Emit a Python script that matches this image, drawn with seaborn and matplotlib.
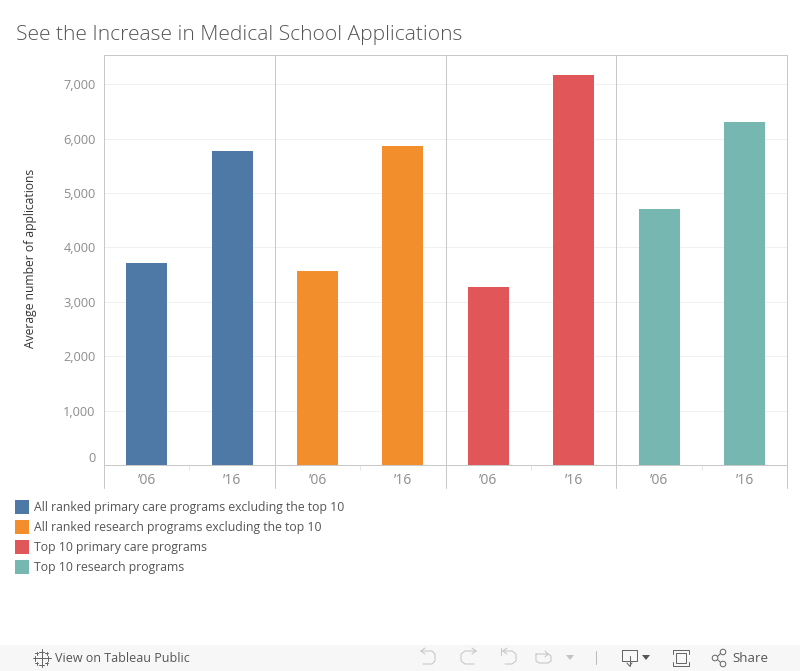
import matplotlib
matplotlib.use("Agg")
import matplotlib.pyplot as plt
import pandas as pd
import seaborn as sns
from matplotlib.lines import Line2D
from matplotlib.patches import Circle, Polygon, Rectangle

# Values
programs = [
    "All ranked primary care programs excluding the top 10",
    "All ranked research programs excluding the top 10",
    "Top 10 primary care programs",
    "Top 10 research programs",
]
years = ["\u201906", "\u201916"]
apps_2006 = [3722, 3575, 3281, 4715]
apps_2016 = [5781, 5873, 7178, 6314]
colors = ["#4e79a7", "#f28e2b", "#e15759", "#76b7b2"]
y_ticks = [0, 1000, 2000, 3000, 4000, 5000, 6000, 7000]

rows = []
for prog, a, b in zip(programs, apps_2006, apps_2016):
    rows.append({"slot": prog + years[0], "program": prog, "apps": a})
    rows.append({"slot": prog + years[1], "program": prog, "apps": b})
data = pd.DataFrame(rows)

sns.set_theme(style="white")
plt.rcParams["font.family"] = ["Open Sans", "DejaVu Sans"]

W, H = 800, 671
GRID = "#f0f0f0"
BORDER = "#c8c8c8"
TICK_TXT = "#8c8c8c"
DARK = "#555555"
THIN = 0.72  # one pixel at dpi 100

fig = plt.figure(figsize=(W / 100, H / 100), dpi=100, facecolor="white")
ax = fig.add_axes([104 / W, (H - 465) / H, 683.2 / W, 410 / H])

sns.barplot(data=data, x="slot", y="apps", hue="program", order=data["slot"],
            hue_order=programs, palette=colors, width=0.48, dodge=False,
            saturation=1, legend=False, linewidth=0, ax=ax)

ax.set_xlim(-0.5, 7.5)
ax.set_ylim(0, 7537)
ax.set_axisbelow(True)
ax.set_yticks(y_ticks)
ax.set_yticklabels([f"{v:,}" for v in y_ticks], fontsize=9.2, color=TICK_TXT)
ax.yaxis.grid(True, color=GRID, lw=THIN)
ax.get_yticklabels()[0].set_verticalalignment("bottom")
ax.set_xticks(range(8))
ax.set_xticklabels(years * 4, fontsize=10, color=TICK_TXT)
ax.tick_params(axis="x", length=0, pad=5.5)
ax.tick_params(axis="y", length=0, pad=6)
ax.set_xlabel("")
ax.set_ylabel("Average number of applications", fontsize=8.7, color="#333333")
ax.yaxis.set_label_coords((37 - 104) / 683.2, 0.503)

for side in ax.spines:
    ax.spines[side].set_color(BORDER)
    ax.spines[side].set_linewidth(THIN)

# panel separators run on through the year band
tr = ax.get_xaxis_transform()
band = -23 / 410
for x in [-0.5, 1.5, 3.5, 5.5, 7.5]:
    ax.plot([x, x], [band, 1], color=BORDER, lw=THIN, transform=tr, clip_on=False)
for x in [0.5, 2.5, 4.5, 6.5]:
    ax.plot([x, x], [-5 / 410, 0], color="#e6e6e6", lw=THIN, transform=tr, clip_on=False)

# overlay in pixel coordinates for title, legend and the toolbar
ov = fig.add_axes([0, 0, 1, 1], zorder=5)
ov.set_xlim(0, W)
ov.set_ylim(H, 0)
ov.axis("off")

ov.text(16, 35, "See the Increase in Medical School Applications", fontsize=15.1,
        color=DARK, va="center", ha="left", fontweight="light")

for i, (prog, col) in enumerate(zip(programs, colors)):
    y = 507 + i * 20
    ov.add_patch(Rectangle((15, y - 7), 14, 14, color=col, lw=0))
    ov.text(34, y, prog, fontsize=8.86, color=DARK, va="center", ha="left")

# toolbar
ov.add_patch(Rectangle((0, 645), W, 26, color="#f7f7f7", lw=0))
ov.text(55, 658, "View on Tableau Public", fontsize=9, color="#555555", va="center")
ov.text(732, 658, "Share", fontsize=9.5, color="#555555", va="center")


def line(xs, ys, col="#c4c4c4", lw=THIN):
    ov.add_line(Line2D(xs, ys, color=col, lw=lw))


# tableau logo
for cx, cy, r in [(41.5, 658, 5), (41.5, 651.5, 2.5), (41.5, 664.5, 2.5),
                  (35, 658, 2.5), (48, 658, 2.5), (36.5, 653, 1.5),
                  (46.5, 653, 1.5), (36.5, 663, 1.5), (46.5, 663, 1.5)]:
    line([cx - r, cx + r], [cy, cy], "#666666")
    line([cx, cx], [cy - r, cy + r], "#666666")

# undo / redo style icons
line([421, 432, 435, 435, 432, 423], [651, 651, 654, 661, 664, 664])
line([421, 425], [651, 648])
line([421, 425], [651, 654])
line([476, 465, 461, 461, 465, 474], [651, 651, 654, 661, 664, 664])
line([476, 472], [651, 648])
line([476, 472], [651, 654])
line([501, 501], [648, 655])
line([503, 512, 516, 516, 512, 505], [651, 651, 654, 661, 664, 664])
line([503, 507], [651, 648])
line([503, 507], [651, 654])
line([536, 548, 551, 551, 548, 539, 536, 536], [654, 654, 656, 661, 663, 663, 661, 654])
line([548, 545], [654, 651])
line([548, 545], [654, 657])
ov.add_patch(Polygon([(566, 655), (574, 655), (570, 660)], color="#c4c4c4", lw=0))
line([596, 596], [651, 664], "#bbbbbb")

# download
line([622, 622, 637, 637, 622], [650, 661, 661, 650, 650], "#666666")
line([629.5, 629.5], [656, 666], "#666666")
line([627, 629.5, 632], [663, 666, 663], "#666666")
ov.add_patch(Polygon([(642, 655), (650, 655), (646, 660)], color="#555555", lw=0))

# fullscreen
ov.add_patch(Rectangle((676, 653), 10, 10, fill=False, ec="#666666", lw=THIN))
line([673, 673, 689, 689], [654, 650, 650, 654], "#666666")
line([673, 673, 689, 689], [662, 666, 666, 662], "#666666")

# share
for cx, cy in [(715, 658), (723, 652), (723, 664)]:
    ov.add_patch(Circle((cx, cy), 2.8, fill=False, ec="#666666", lw=THIN))
line([717.5, 720.5], [656.5, 653.5], "#666666")
line([717.5, 720.5], [659.5, 662.5], "#666666")

fig.savefig("out.png", dpi=100)
